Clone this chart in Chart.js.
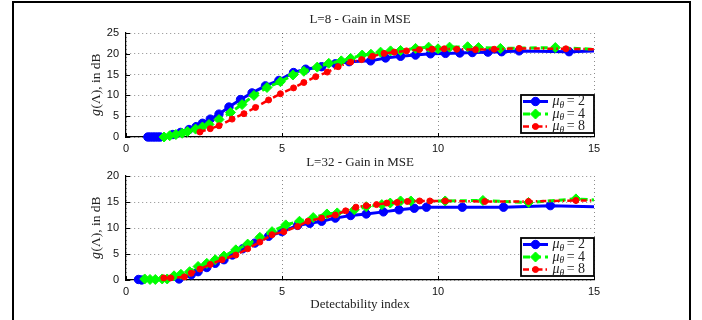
<!DOCTYPE html>
<html>
<head>
<meta charset="utf-8">
<script src="https://cdn.jsdelivr.net/npm/chart.js@4"></script>
<style>
  body { margin: 0; background: #fff; width: 702px; height: 320px; overflow: hidden; position: relative; }
  #frame { position: absolute; left: 12px; top: 1px; width: 675px; height: 340px; border: 2px solid #000; }
  canvas { position: absolute; left: 0; }
  #c1 { top: 0; }
  #c2 { top: 145px; }
</style>
</head>
<body>
<div id="frame"></div>
<canvas id="c1" width="702" height="160"></canvas>
<canvas id="c2" width="702" height="175"></canvas>
<script>
// ticks / labels
const xTickValues = [0, 5, 10, 15];
const yTicksTop = [0, 5, 10, 15, 20, 25];
const yTicksBottom = [0, 5, 10, 15, 20];
const legendValues = ['2', '4', '8'];

// L=8
const l8_mu2_x = [0.7, 0.78, 0.86, 0.94, 1.02, 1.1, 1.5, 1.75, 2.02, 2.25, 2.45, 2.7, 2.98, 3.3, 3.67, 4.04, 4.47, 4.9, 5.37, 5.76, 6.27, 6.71, 7.15, 7.84, 8.32, 8.8, 9.28, 9.76, 10.24, 10.7, 11.1, 11.6, 12.04, 12.6, 14.2, 15];
const l8_mu2_y = [0, 0, 0, 0, 0, 0, 0.6, 1.1, 1.8, 2.5, 3.3, 4.3, 5.5, 7.2, 9.0, 10.6, 12.3, 13.6, 15.5, 16.3, 16.9, 17.6, 18.1, 18.3, 19.0, 19.4, 19.7, 20.0, 20.1, 20.2, 20.3, 20.4, 20.5, 20.7, 20.5, 20.7];
const l8_mu4_x = [1.22, 1.4, 1.6, 1.8, 1.97, 2.23, 2.45, 2.66, 2.98, 3.35, 3.72, 4.1, 4.52, 4.95, 5.35, 5.7, 6.13, 6.5, 6.9, 7.2, 7.57, 7.85, 8.16, 8.48, 8.8, 9.28, 9.7, 10.0, 10.37, 10.95, 11.3, 12.0, 13.76, 15];
const l8_mu4_y = [0, 0.3, 0.6, 0.9, 1.3, 1.9, 2.4, 3.0, 4.2, 5.9, 7.8, 10.0, 11.9, 13.3, 14.9, 15.8, 16.8, 17.7, 18.3, 18.9, 19.7, 19.9, 20.4, 20.7, 20.8, 21.3, 21.6, 21.2, 21.6, 21.7, 21.5, 21.3, 21.5, 21.1];
const l8_mu8_x = [2.37, 2.7, 2.98, 3.4, 3.78, 4.15, 4.57, 4.95, 5.37, 5.7, 6.08, 6.45, 6.8, 7.2, 7.55, 7.9, 8.27, 8.6, 8.99, 9.4, 9.81, 10.2, 10.6, 11.2, 11.8, 12.6, 14.1, 15];
const l8_mu8_y = [1.2, 2.0, 2.7, 4.3, 5.6, 7.1, 8.9, 10.4, 11.8, 13.1, 14.5, 15.6, 16.9, 18.0, 18.6, 19.4, 20.1, 20.4, 20.7, 21.0, 21.1, 21.2, 21.1, 21.0, 21.1, 21.3, 21.2, 21.1];

// L=32
const l32_mu2_x = [0.4, 0.5, 1.7, 2.09, 2.31, 2.59, 2.86, 3.14, 3.41, 3.74, 4.13, 4.57, 5.0, 5.5, 5.89, 6.27, 6.71, 7.2, 7.7, 8.25, 8.75, 9.24, 9.63, 10.78, 12.1, 13.6, 15];
const l32_mu2_y = [0.1, 0, 0.2, 1.0, 1.6, 2.4, 3.2, 3.9, 4.8, 6.0, 7.1, 8.4, 9.3, 10.5, 10.9, 11.3, 11.9, 12.4, 12.7, 13.1, 13.5, 13.8, 14.0, 14.0, 14.0, 14.3, 14.1];
const l32_mu4_x = [0.6, 0.77, 0.94, 1.16, 1.32, 1.54, 1.76, 2.04, 2.31, 2.59, 2.86, 3.14, 3.52, 3.9, 4.29, 4.68, 5.12, 5.56, 6.0, 6.44, 6.77, 7.32, 7.7, 8.2, 8.47, 8.8, 9.13, 10.23, 11.44, 12.9, 14.42, 15];
const l32_mu4_y = [0.2, 0.1, 0.1, 0.2, 0.2, 0.8, 1.1, 1.6, 2.6, 3.2, 3.9, 4.6, 5.8, 6.9, 8.2, 9.3, 10.6, 11.3, 12.0, 12.7, 12.9, 13.5, 14.1, 14.5, 14.8, 15.2, 15.2, 15.2, 15.3, 14.9, 15.6, 15.4];
const l32_mu8_x = [1.21, 1.43, 1.87, 2.09, 2.37, 2.7, 3.08, 3.52, 3.9, 4.29, 4.68, 5.06, 5.5, 5.83, 6.27, 6.71, 7.04, 7.37, 7.7, 8.03, 8.36, 8.69, 9.02, 9.41, 9.74, 10.23, 11.5, 12.9, 14.42, 15];
const l32_mu8_y = [0.4, 0.4, 0.6, 1.3, 2.1, 3.0, 3.9, 4.8, 6.0, 7.3, 8.7, 9.3, 10.3, 11.3, 11.9, 12.5, 13.3, 14.0, 14.3, 14.5, 14.8, 14.9, 15.1, 15.2, 15.2, 15.2, 15.1, 15.1, 15.3, 15.3];

const pts = (xs, ys) => xs.map((x, i) => ({ x: x, y: ys[i] }));
// no marker on the last (edge) point
const rad = r => c => (c.dataIndex === c.dataset.data.length - 1 ? 0 : r);

function makeSets(s2, s4, s8) {
  return [
    { data: s2, borderColor: '#0000ff', backgroundColor: '#0000ff', borderWidth: 3,
      pointStyle: 'circle', pointRadius: rad(4.2), pointBorderWidth: 1, order: 3 },
    { data: s4, borderColor: '#00ff00', backgroundColor: '#00ff00', borderWidth: 3, borderDash: [7, 4],
      pointStyle: 'rectRot', pointRadius: rad(5), pointBorderWidth: 1, order: 2 },
    { data: s8, borderColor: '#ff0000', backgroundColor: '#ff0000', borderWidth: 2.5, borderDash: [6, 3, 1.5, 3],
      pointStyle: 'circle', pointRadius: rad(3), pointBorderWidth: 1, order: 1 }
  ];
}

const deco = {
  id: 'deco',
  afterDraw(chart, args, opts) {
    const ctx = chart.ctx, a = chart.chartArea;
    const xs = chart.scales.x, ys = chart.scales.y;
    ctx.save();
    // inward tick marks
    ctx.strokeStyle = '#000';
    ctx.lineWidth = 1;
    ctx.setLineDash([]);
    ctx.beginPath();
    xs.ticks.forEach(t => {
      const px = Math.round(xs.getPixelForValue(t.value)) + 0.5;
      ctx.moveTo(px, a.bottom); ctx.lineTo(px, a.bottom - 4);
    });
    ys.ticks.forEach(t => {
      const py = Math.round(ys.getPixelForValue(t.value)) + 0.5;
      ctx.moveTo(a.left, py); ctx.lineTo(a.left + 4, py);
    });
    ctx.stroke();

    // title
    ctx.fillStyle = '#222';
    ctx.textBaseline = 'middle';
    ctx.textAlign = 'center';
    ctx.font = '13px "Liberation Serif"';
    ctx.fillText(opts.title, (a.left + a.right) / 2, a.top - 13);
    if (opts.xTitle) {
      ctx.fillText(opts.xTitle, (a.left + a.right) / 2, a.bottom + 25);
    }

    // y title: italic g + rest
    ctx.save();
    ctx.translate(96, (a.top + a.bottom) / 2);
    ctx.rotate(-Math.PI / 2);
    ctx.textAlign = 'left';
    const fI = 'italic 14px "Liberation Serif"', fR = '13.5px "Liberation Serif"';
    ctx.font = fI; const w1 = ctx.measureText('g').width;
    ctx.font = fR; const rest = '(Λ), in dB'; const w2 = ctx.measureText(rest).width;
    let sx = -(w1 + w2) / 2;
    ctx.font = fI; ctx.fillText('g', sx, 0);
    ctx.font = fR; ctx.fillText(rest, sx + w1 + 0.5, 0);
    ctx.restore();

    // legend
    const bw = 73, bh = 38;
    const bx = a.right - bw, by = a.bottom - 4 - bh;
    ctx.fillStyle = '#fff';
    ctx.fillRect(bx, by, bw, bh);
    ctx.strokeStyle = '#000';
    ctx.lineWidth = 1.8;
    ctx.strokeRect(bx, by, bw, bh);
    chart.data.datasets.forEach((ds, i) => {
      const ly = by + 6.5 + i * 12.5;
      ctx.save();
      ctx.strokeStyle = ds.borderColor;
      ctx.lineWidth = ds.borderWidth;
      ctx.setLineDash(ds.borderDash || []);
      ctx.beginPath(); ctx.moveTo(bx + 2, ly); ctx.lineTo(bx + 27, ly); ctx.stroke();
      ctx.setLineDash([]);
      ctx.fillStyle = ds.backgroundColor;
      ctx.lineWidth = 1;
      const r = ds.pointStyle === 'rectRot' ? 5 : (i === 0 ? 4.2 : 3);
      Chart.helpers.drawPoint(ctx, { pointStyle: ds.pointStyle, radius: r, rotation: 0, borderWidth: 1 }, bx + 14.5, ly);
      ctx.restore();
      ctx.fillStyle = '#222';
      ctx.textAlign = 'left';
      ctx.textBaseline = 'middle';
      let tx = bx + 31.5;
      ctx.font = 'italic 14px "Liberation Serif"';
      ctx.fillText('μ', tx, ly); tx += ctx.measureText('μ').width;
      ctx.font = 'italic 9.5px "Liberation Serif"';
      ctx.fillText('θ', tx, ly + 3.5); tx += ctx.measureText('θ').width + 2.5;
      ctx.font = '14px "Liberation Serif"';
      ctx.fillText('= ' + legendValues[i], tx, ly);
    });
    ctx.restore();
  }
};

function makeChart(id, sets, yMax, yTicks, pad, xH, opts) {
  return new Chart(document.getElementById(id), {
    type: 'line',
    data: { datasets: sets },
    plugins: [deco],
    options: {
      responsive: false,
      animation: false,
      layout: { padding: pad },
      datasets: { line: { clip: { left: 8, top: 8, right: 0, bottom: 8 }, tension: 0, fill: false } },
      plugins: { legend: { display: false }, tooltip: { enabled: false }, deco: opts },
      scales: {
        x: {
          type: 'linear', min: 0, max: 15,
          afterBuildTicks: s => { s.ticks = xTickValues.map(v => ({ value: v })); },
          afterFit: s => { s.height = xH; },
          grid: { color: 'rgba(0,0,0,0.45)', lineWidth: 1, drawTicks: false },
          border: { display: true, color: '#000', width: 1.2, dash: [1, 3] },
          ticks: { padding: 5, color: '#111', font: { family: '"Liberation Sans"', size: 11 } }
        },
        y: {
          type: 'linear', min: 0, max: yMax,
          afterBuildTicks: s => { s.ticks = yTicks.map(v => ({ value: v })); },
          afterFit: s => { s.width = 126; },
          grid: { color: 'rgba(0,0,0,0.45)', lineWidth: 1, drawTicks: false },
          border: { display: true, color: '#000', width: 1.2, dash: [1, 3] },
          ticks: { padding: 7, color: '#111', font: { family: '"Liberation Sans"', size: 11 } }
        }
      }
    }
  });
}

makeChart('c1',
  makeSets(pts(l8_mu2_x, l8_mu2_y), pts(l8_mu4_x, l8_mu4_y), pts(l8_mu8_x, l8_mu8_y)),
  25, yTicksTop, { left: 0, top: 33, right: 108, bottom: 0 }, 23,
  { title: 'L=8 - Gain in MSE' });

makeChart('c2',
  makeSets(pts(l32_mu2_x, l32_mu2_y), pts(l32_mu4_x, l32_mu4_y), pts(l32_mu8_x, l32_mu8_y)),
  20, yTicksBottom, { left: 0, top: 31, right: 108, bottom: 0 }, 40,
  { title: 'L=32 - Gain in MSE', xTitle: 'Detectability index' });
</script>
</body>
</html>
